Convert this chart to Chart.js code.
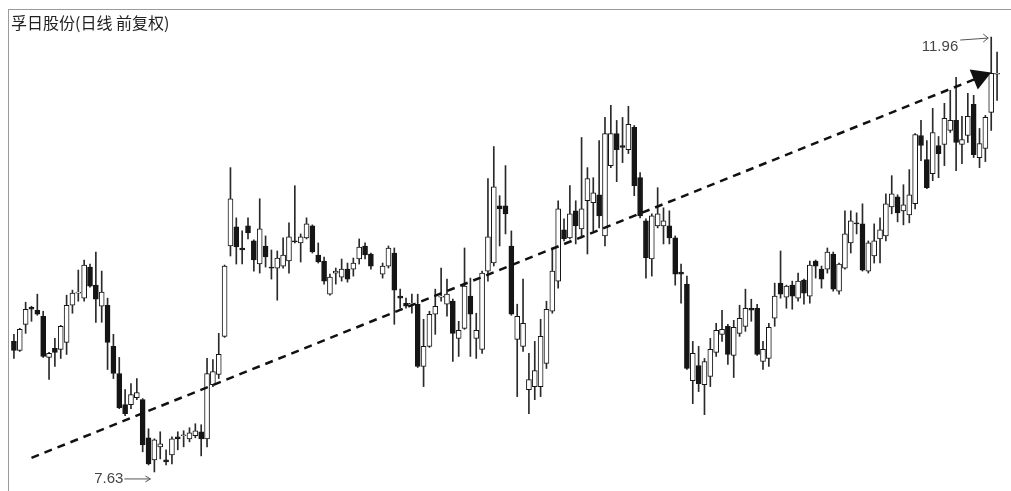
<!DOCTYPE html>
<html>
<head>
<meta charset="utf-8">
<script src="https://cdn.jsdelivr.net/npm/chart.js@4"></script>
<style>
  body { margin: 0; background: #fff; }
  #wrap { position: relative; width: 1011px; height: 491px; overflow: hidden; }
  #frame { position: absolute; left: 8px; top: 9px; width: 1003px; height: 482px;
           border-left: 1px solid #9a9a9a; border-top: 1px solid #9a9a9a; }
  #title { position: absolute; left: 11px; top: 10px; font: 16px "Noto Sans CJK SC", sans-serif; color: #222; }
  canvas { position: absolute; left: 0; top: 0; }
</style>
</head>
<body>
<div id="wrap">
  <div id="frame"></div>
  <canvas id="chart" width="1011" height="491"></canvas>
  <div id="title">孚日股份(日线 前复权)</div>
</div>
<script>
const opens = [8.93,8.84,9.10,9.27,9.24,9.18,8.77,8.86,8.85,8.92,9.29,9.41,9.36,9.67,9.49,9.28,9.29,8.88,8.61,8.30,
  8.30,8.37,8.35,7.97,7.75,7.88,7.75,7.80,7.98,7.99,7.96,7.99,8.03,7.96,8.50,8.60,8.98,9.88,10.07,9.86,
  10.08,9.93,9.70,9.88,9.67,9.66,9.68,9.73,9.93,9.91,9.96,10.08,9.79,9.73,9.40,9.61,9.57,9.65,9.65,9.75,
  9.88,9.80,null,9.60,9.68,9.81,9.38,9.31,9.30,9.30,8.68,8.88,9.20,9.37,9.30,9.33,8.96,9.06,9.38,8.96,
  8.85,9.63,9.71,10.28,10.28,9.88,8.95,8.88,8.45,8.48,8.48,8.71,9.23,9.53,10.04,9.96,10.23,10.05,10.33,10.31,
  10.39,9.98,10.68,11.00,10.88,10.84,11.06,10.56,10.13,9.75,10.08,10.08,10.08,9.96,9.62,9.50,8.54,8.69,8.50,8.58,
  8.82,9.00,9.08,8.79,9.01,9.08,9.26,9.26,8.73,8.76,9.16,9.51,9.37,9.49,9.36,9.54,9.38,9.73,9.65,9.65,
  9.80,9.43,9.66,9.91,10.11,10.10,9.63,9.78,9.95,9.98,10.27,10.37,10.23,10.19,10.30,10.98,10.74,10.60,10.88,10.89,
  11.03,11.13,10.89,10.98,11.29,10.76,10.85,11.21,11.59];
const highs = [9.00,9.06,9.32,9.28,9.40,9.23,8.82,8.96,9.09,9.39,9.44,9.64,9.74,9.70,9.82,9.63,9.36,9.00,8.77,8.45,
  8.51,8.56,8.36,8.06,7.96,8.03,7.85,7.98,8.03,8.04,8.07,8.11,8.10,8.76,8.75,9.01,9.69,10.66,10.16,10.03,
  10.16,9.94,10.35,9.98,9.84,9.83,9.96,10.11,10.48,10.00,10.16,10.09,9.91,9.77,9.60,9.66,9.75,9.71,9.76,9.95,
  9.91,9.81,null,9.71,9.88,9.86,9.45,9.36,9.40,9.40,9.15,9.23,9.45,9.66,9.55,9.35,9.13,9.86,9.56,9.21,
  9.63,10.55,10.87,10.38,10.68,10.03,9.30,9.55,8.81,8.93,9.15,9.33,9.86,10.33,10.15,10.48,10.33,10.96,10.66,10.56,
  10.93,11.16,11.28,11.13,11.16,11.27,11.08,10.61,10.15,10.20,10.46,10.26,10.23,9.98,9.70,9.58,8.93,8.88,8.76,8.96,
  9.11,9.24,9.10,9.14,9.29,9.45,9.35,9.30,8.93,9.11,9.51,9.83,9.49,9.53,9.61,9.55,9.73,9.74,9.68,9.86,
  9.82,9.71,10.23,10.23,10.21,10.30,9.93,10.10,10.16,10.40,10.58,10.39,10.49,10.64,11.00,11.13,10.93,11.25,10.97,11.30,
  11.43,11.56,11.17,11.40,11.38,11.05,11.18,11.96,11.81];
const lows = [8.76,8.83,9.01,9.13,9.19,8.77,8.55,8.68,8.76,8.80,9.21,9.33,9.33,9.47,9.12,9.12,8.65,8.56,8.26,8.19,
  8.26,8.35,7.83,7.70,7.63,7.76,7.70,7.71,7.85,7.88,7.93,7.97,7.79,7.88,8.48,8.56,8.97,9.78,9.70,9.70,
  9.95,9.63,9.61,9.67,9.55,9.34,9.66,9.61,9.91,9.72,9.95,9.81,9.71,9.50,9.39,9.50,9.53,9.52,9.58,9.70,
  9.75,9.65,null,9.56,9.66,9.10,9.26,9.26,9.21,8.67,8.48,8.87,9.00,9.33,9.18,8.73,8.78,9.05,8.78,8.76,
  8.81,9.53,9.68,9.88,10.00,9.19,8.38,8.83,8.21,8.35,8.38,8.66,9.21,9.46,9.93,9.95,9.90,9.96,9.80,10.03,
  10.06,9.88,10.66,10.52,10.71,10.80,10.38,10.16,9.56,9.58,10.06,9.90,9.90,9.49,9.31,8.65,8.31,8.43,8.20,8.48,
  8.78,8.93,8.70,8.57,8.98,9.03,9.13,8.79,8.65,8.68,9.08,9.36,9.26,9.25,9.33,9.30,9.31,9.56,9.46,9.61,
  9.43,9.40,9.65,9.81,10.00,9.63,9.61,9.71,9.71,9.93,10.20,10.12,10.09,10.11,10.25,10.73,10.45,10.53,10.56,10.68,
  11.01,10.63,10.70,10.91,10.76,10.66,10.72,11.03,11.33];
const closes = [8.84,9.05,9.25,9.25,9.20,8.78,8.81,8.82,9.08,9.29,9.41,9.42,9.69,9.48,9.35,9.42,8.92,8.61,8.27,8.21,
  8.40,8.42,7.90,7.71,7.95,7.91,7.73,7.96,7.96,8.00,8.02,8.04,7.96,8.61,8.63,8.80,9.68,10.35,9.87,9.84,
  10.01,9.74,10.05,9.77,9.66,9.76,9.79,9.97,9.92,9.97,10.10,9.82,9.72,9.53,9.57,9.63,9.65,9.55,9.71,9.87,
  9.79,9.68,null,9.68,9.86,9.44,9.36,9.28,9.31,8.68,8.88,9.20,9.28,9.38,9.40,9.01,9.04,9.48,9.20,9.04,
  9.61,9.97,10.47,10.25,10.20,9.20,9.18,9.11,8.55,8.64,8.98,9.25,9.63,10.25,9.95,10.20,10.08,10.25,10.55,10.41,
  10.18,11.00,11.00,10.84,10.86,11.09,10.48,10.18,9.76,10.18,10.20,10.13,9.96,9.60,9.60,8.66,8.81,8.51,8.73,8.85,
  9.04,9.05,8.80,9.07,9.16,9.26,9.24,8.80,8.85,9.07,9.38,9.40,9.48,9.38,9.53,9.41,9.69,9.68,9.55,9.82,
  9.45,9.70,10.00,10.13,10.10,9.64,9.91,9.93,10.04,10.30,10.40,10.21,10.29,10.39,10.99,10.88,10.46,11.01,10.80,11.15,
  11.13,10.91,10.94,11.17,10.79,10.90,11.16,11.60,11.60];

const days = opens.map((_, i) => 'D' + (i + 1));

// trend line: start / end day index and price
const trendIdx = [3, 165];
const trendVals = [7.77, 11.56];

const isUp = i => closes[i] >= opens[i];

const notes = {
  id: 'notes',
  afterDatasetsDraw(chart) {
    const c = chart.ctx, x = chart.scales.x, y = chart.scales.y;
    c.save();
    c.font = '15px "Liberation Sans", Arial, sans-serif';
    c.fillStyle = '#444';
    c.strokeStyle = '#555';
    c.lineWidth = 1;
    c.setLineDash([]);
    let hi = 0, lo = 0;
    highs.forEach((v, i) => { if (v != null && v > highs[hi]) hi = i; });
    lows.forEach((v, i) => { if (v != null && v < lows[lo]) lo = i; });
    const hx = x.getPixelForValue(hi), hy = y.getPixelForValue(highs[hi]);
    c.textAlign = 'right';
    c.textBaseline = 'middle';
    c.fillText(highs[hi].toFixed(2), hx - 33, hy + 10);
    c.beginPath();
    c.moveTo(hx - 31, hy + 3); c.lineTo(hx - 3, hy + 1);
    c.moveTo(hx - 8, hy - 3); c.lineTo(hx - 3, hy + 1); c.lineTo(hx - 8, hy + 5);
    c.stroke();
    const lx = x.getPixelForValue(lo), ly = y.getPixelForValue(lows[lo]);
    c.fillText(lows[lo].toFixed(2), lx - 31, ly + 7);
    c.beginPath();
    c.moveTo(lx - 30, ly + 7); c.lineTo(lx - 4, ly + 7);
    c.moveTo(lx - 9, ly + 4); c.lineTo(lx - 4, ly + 7); c.lineTo(lx - 9, ly + 10);
    c.stroke();
    c.restore();
  }
};

new Chart(document.getElementById('chart'), {
  type: 'bar',
  data: {
    labels: days,
    datasets: [{
      type: 'line',
      data: trendIdx.map((d, k) => ({ x: days[d], y: trendVals[k] })),
      borderColor: '#111',
      borderWidth: 2.5,
      borderDash: [8, 6],
      pointStyle: 'triangle',
      pointRotation: 68,
      pointRadius: ctx => ctx.dataIndex === 1 ? 10 : 0,
      pointBackgroundColor: '#111',
      pointBorderColor: '#111',
      clip: false,
      order: 0
    }, {
      data: closes.map((v, i) => v == null ? null : [opens[i], v]),
      backgroundColor: ctx => isUp(ctx.dataIndex) ? '#fff' : '#151515',
      borderColor: '#151515',
      borderWidth: 1,
      borderSkipped: false,
      barThickness: 5,
      minBarLength: 1,
      grouped: false,
      order: 1
    }, {
      data: highs.map((v, i) => v == null ? null : [lows[i], v]),
      backgroundColor: '#2a2a2a',
      barThickness: 1,
      grouped: false,
      order: 2
    }]
  },
  options: {
    responsive: false,
    animation: false,
    devicePixelRatio: 1,
    layout: { autoPadding: false, padding: { left: 11, right: 11, top: 23, bottom: 6 } },
    scales: {
      x: { display: false, offset: true },
      y: { display: false, min: 7.5, max: 12.1 }
    },
    plugins: { legend: { display: false }, tooltip: { enabled: false } }
  },
  plugins: [notes]
});
</script>
</body>
</html>
